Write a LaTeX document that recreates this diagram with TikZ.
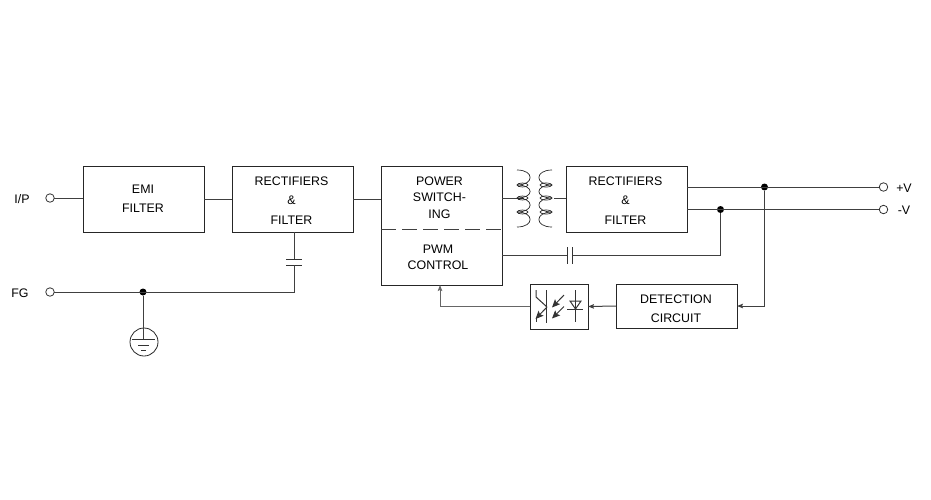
\documentclass[tikz,border=0pt]{standalone}
\usepackage{fontspec}
\setmainfont{Liberation Sans}
\usetikzlibrary{arrows.meta}
\begin{document}
\begin{tikzpicture}[
  x=1pt,y=-1pt,
  >={Stealth[length=6pt,width=4.5pt,inset=1pt]},
  block/.style={draw=black!85,line width=1pt,minimum width=121pt,inner sep=0pt,outer sep=0pt},
  caption/.style={align=center,inner sep=0pt,text=black,font=\fontsize{12.4}{19.2}\selectfont},
  tight/.style={font=\fontsize{12.4}{16.4}\selectfont},
  wire/.style={draw=black!75,line width=1pt},
  thinwire/.style={draw=black!60,line width=0.8pt},
  terminal/.style={draw=black!80,circle,line width=0.8pt,minimum size=8.5pt,inner sep=0pt,outer sep=0pt},
  joint/.style={fill=black,circle,minimum size=7pt,inner sep=0pt,outer sep=0pt},
  plate/.style={draw=black!80,line width=1pt},
  coil/.style={draw=black!85,line width=0.7pt},
  bigtip/.style={-{Stealth[length=8pt,width=7pt,inset=1.5pt]}}
]
  \useasboundingbox (0,0) rectangle (931,499);

  % blocks
  \node[block,minimum height=66pt] (emi) at (143.5,199) {};
  \node[block,minimum height=66pt] (recta) at (292.5,199) {};
  \node[block,minimum height=119pt] (power) at (441.5,225.5) {};
  \node[block,minimum height=66pt] (rectb) at (626.5,199) {};
  \node[block,minimum width=58pt,minimum height=45pt] (opto) at (559,306.5) {};
  \node[block,minimum height=44pt] (detect) at (676.5,306) {};

  \node[caption] (emitext) at (143,198.5) {EMI\\FILTER};
  \node[caption] (rectatext) at (291.5,200.5) {RECTIFIERS\\\&\\FILTER};
  \node[caption,tight] (switchtext) at (439.5,197.5) {POWER\\SWITCH-\\ING};
  \node[caption,tight] (pwmtext) at (438,257) {PWM\\CONTROL};
  \node[caption] (rectbtext) at (625.5,200.5) {RECTIFIERS\\\&\\FILTER};
  \node[caption] (detecttext) at (676,308.5) {DETECTION\\CIRCUIT};

  % terminals
  \node[terminal] (ip) at (50,198) {};
  \node[terminal] (fg) at (50,292) {};
  \node[terminal] (vplus) at (883.5,187) {};
  \node[terminal] (vminus) at (883.5,209.5) {};
  \node[caption] (iplabel) at (22,199) {I/P};
  \node[caption] (fglabel) at (20,293) {FG};
  \node[caption] (vpluslabel) at (904,188) {+V};
  \node[caption] (vminuslabel) at (904,210) {-V};

  \node[joint] (fgjoint) at (143,292) {};
  \node[joint] (vplusjoint) at (764.5,187) {};
  \node[joint] (vminusjoint) at (720.5,209.5) {};

  \coordinate (divleft) at (381,229);
  \coordinate (divright) at (502,229);
  \coordinate (capa) at (294,259);
  \coordinate (capb) at (294,265);
  \coordinate (capc) at (567,255);
  \coordinate (capd) at (572.5,255);
  \coordinate (gndtop) at (143,339);
  \coordinate (coila) at (524,198);
  \coordinate (coilb) at (554,198);

  \draw[wire,dash pattern=on 15pt off 6pt] (divleft) -- (divright);

  % main path
  \draw[wire] (ip) -- (ip -| emi.west);
  \draw[wire] (emi.east |- recta.west) -- (recta.west);
  \draw[wire] (recta.east) -- (power.west |- recta.east);
  \draw[wire] (power.east |- coila) -- (coila);
  \draw[wire] (coilb) -- (rectb.west |- coilb);
  \draw[wire] (rectb.east |- vplus) -- (vplus);
  \draw[wire] (rectb.east |- vminus) -- (vminus);

  % transformer
  \foreach \ya/\yb in {170/185,185/198,198/212,212/227} {
    \draw[coil] (517,\ya) .. controls (534.5,\ya) and (534.5,\yb) .. (517,\yb);
    \draw[coil] (552,\ya) .. controls (534.5,\ya) and (534.5,\yb) .. (552,\yb);
  }
  \foreach \ya in {185,198,212} {
    \draw[coil] (522.5,\ya) ellipse (5.5 and 2);
    \draw[coil] (546,\ya) ellipse (6 and 2);
  }

  % earth side
  \draw[wire] (recta.south -| capa) -- (capa);
  \draw[plate] ([xshift=-8pt]capa) -- ([xshift=8pt]capa);
  \draw[plate] ([xshift=-8pt]capb) -- ([xshift=8pt]capb);
  \draw[wire] (capb) -- (capb |- fg) -- (fg);
  \node[draw=black!85,circle,line width=0.8pt,minimum size=28pt,inner sep=0pt] (gnd) at (144,342) {};
  \draw[wire] (fgjoint) -- (gndtop);
  \draw[plate] (132,339) -- (155,339);
  \draw[plate] (138,345) -- (149,345);
  \draw[plate] (141,350) -- (146,350);

  % feedback
  \draw[wire] (vminusjoint) -- (vminusjoint |- capd) -- (capd);
  \draw[wire] (capc) -- (power.east |- capc);
  \draw[plate] ([yshift=-8.5pt]capc) -- ([yshift=8.5pt]capc);
  \draw[plate] ([yshift=-8.5pt]capd) -- ([yshift=8.5pt]capd);
  \draw[wire,->] (vplusjoint) -- (vplusjoint |- detect.east) -- (detect.east);
  \draw[wire,->] (detect.west) -- (opto.east);
  \draw[thinwire,->] (opto.west) -- (440,306.5) -- (440,285);

  % opto coupler
  \draw[plate] (546,290) -- (546,323);
  \draw[plate] (536,290) -- (536,297) -- (547,307);
  \draw[plate,bigtip] (547,307) -- (535.5,319);
  \draw[plate] (536,317) -- (536,322);
  \draw[plate,bigtip] (564,295) -- (552,307.5);
  \draw[plate,bigtip] (564,306.5) -- (552,318.5);
  \draw[plate] (575,290) -- (575,322);
  \draw[plate] (570,301) -- (581,301) -- (575.5,309) -- cycle;
  \draw[plate] (567,309) -- (583,309);
\end{tikzpicture}
\end{document}
